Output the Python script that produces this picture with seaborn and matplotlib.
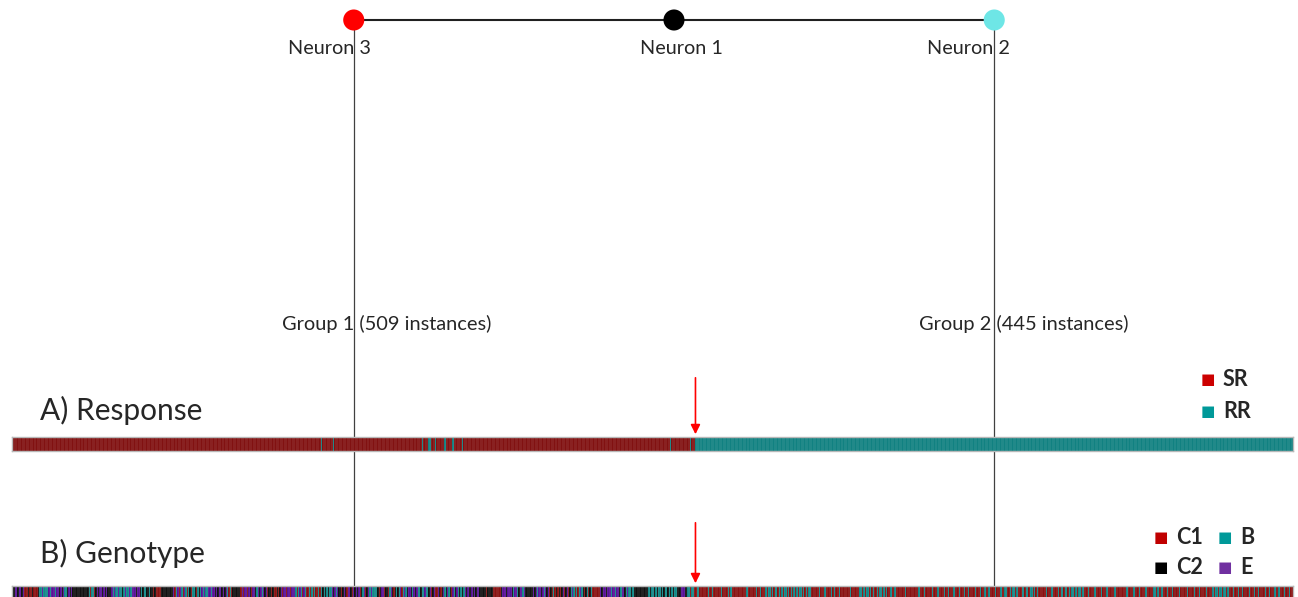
import numpy as np
import seaborn as sns
import matplotlib
matplotlib.use("Agg")
import matplotlib.pyplot as plt
from matplotlib.colors import ListedColormap

sns.set_style("white")
plt.rcParams['font.family'] = ['Lato', 'DejaVu Sans']

# ---- data ----
group_names = ["Group 1", "Group 2"]
group_sizes = [509, 445]
neuron_names = ["Neuron 3", "Neuron 1", "Neuron 2"]
neuron_colors = ["#ff0000", "#000000", "#6ee6e6"]

resp_labels = ["SR", "RR"]
resp_legend_colors = ["#cc0000", "#009999"]
resp_strip_colors = ["#780000", "#007878"]
# run-length encoded response per instance
resp_runs = [("SR", 230), ("RR", 1), ("SR", 8), ("RR", 1), ("SR", 65), ("RR", 1),
             ("SR", 4), ("RR", 2), ("SR", 3), ("RR", 1), ("SR", 6), ("RR", 1),
             ("SR", 5), ("RR", 1), ("SR", 6), ("RR", 1), ("SR", 154), ("RR", 1),
             ("SR", 14), ("RR", 1), ("SR", 3), ("RR", 445)]

geno_labels = ["C1", "C2", "B", "E"]
geno_keys = {"R": 0, "K": 1, "B": 2, "E": 3}
geno_legend_colors = ["#c00000", "#000000", "#009999", "#7030a0"]
geno_strip_colors = ["#800000", "#000000", "#008080", "#4c0090"]
# one character per instance: R=C1, K=C2, B=B, E=E
genotype = [
    "KKEEKEEKER RRKRRKRRRK BBEBBBBEBE EEBEEKEKEB BKEKEKKKKK",
    "KKKKKKKBRB BRKEKEEKEK EKKKEBEBBE BBKBEBBEBE EEKEEKBKBB",
    "KKBKKRKRRR RKKKKKKKKK ERBEREBREB RBKRBBKRBK BEBEBBEEBE",
    "EKEKEEKEKE BRBRKKKKKK REREEREKRE EKBEKEBEKE RKKRKRRKRK",
    "EREEREEREE EBRBEBREBR RBRBRBRRBR BKBKBKBBEK EBEKKRKEKR",
    "EEKREKEKER KBERKEBEBB BBKRKEERKK RBEKRKBKBE RBEBKEEKBE",
    "KEBBKBBEBB KERKERREKR KEBKEBKREB KEBKBKBEKE KKEKEKEEKK",
    "KKKRKKKKRR RRRRKEEEKE EEKBEEBKEE BEKKKKKKEK EBEEKEBEKE",
    "RKRBRKRKRK ERKERKBEBR BRBEBKRKBR KBRRRRRREK EEKEEEBEEB",
    "EEKBEEKBEB BKBKKKKKKK KKKKBKBBKB KBBKBKBBKB KBKBBKKKEE",
    "EKKBBRBBRR BBRRRRRRBR RBRRRRRRBR RRRBRBRRRR RRRRRRRBRR",
    "RRRRBRRBRR RBRBBRBRBB RBRBRBBRBR BRBRBRBBRB RBRBBRRRRR",
    "RBRRRBRRRR BRBRRRBRRR RRRRBRRRRR RBBRBRBBRB RBRRBRBBRB",
    "RBRRBRRBRR RRRRRBRRRR RRRRRBRRRB RRRRRBRRRB RRRRBRRBRR",
    "RBRRRBRRRB RRBRRRRBRR RBRRBRRBRR RRBRRRBRRB BRRBRBBRBR",
    "RRBBRBBRBB RBRBRRRRRR BRRRBRRRRB RBBRBBRBRB BRBRBBRBRR",
    "RBRRRRBRRR RBRRRBRRRR RBRRRRRRRR BRRRRBRRRB RRRRBRRRRR",
    "BBRBRRBRRR BRRRBRRRRB RRRRRBRRRR BRRRBRRRRB RRRRBRBBRB",
    "BRBBRBRRRB RRRBRRBRRR RBRRRBRRBR RRRBRRBRRR BRRBRRRBRR",
    "RBRR",
]

n_total = sum(group_sizes)
resp_codes = np.concatenate([[resp_labels.index(l)] * k for l, k in resp_runs])
geno_codes = np.array([geno_keys[c] for c in "".join(genotype).replace(" ", "")])

# neurons sit at the group centres, Neuron 1 half way between them
g_centres = [group_sizes[0] / 2, group_sizes[0] + group_sizes[1] / 2]
neuron_x = [g_centres[0], (g_centres[0] + g_centres[1]) / 2, g_centres[1]]

W, H = 1298, 597
fig = plt.figure(figsize=(W / 100, H / 100), dpi=100)
L, R = 12, 1293
ax = fig.add_axes([L / W, 0, (R - L) / W, 1])
ax.set_xlim(0, n_total)
ax.set_ylim(H, 0)
ax.axis("off")

def px(x):
    return x / W

def py(y):
    return 1 - y / H

# tree
for gx in g_centres:
    ax.plot([gx, gx], [20, H], color="#404040", lw=0.9, zorder=1)
ax.plot([neuron_x[0], neuron_x[2]], [20, 20], color="#202020", lw=1.5, zorder=2)
sns.scatterplot(x=neuron_x, y=[20] * 3, hue=neuron_names, palette=neuron_colors,
                s=230, edgecolor="none", legend=False, ax=ax, zorder=3)

# labels
for name, lx in zip(neuron_names, [288, 640, 927]):
    fig.text(px(lx), py(48), name, fontsize=14.3, ha="left", va="center")
for name, n, lx in zip(group_names, group_sizes, [282, 919]):
    fig.text(px(lx), py(324), f"{name} ({n} instances)", fontsize=14.4, ha="left", va="center")
fig.text(px(40), py(410), "A) Response", fontsize=21.5, ha="left", va="center")
fig.text(px(40), py(553), "B) Genotype", fontsize=21.5, ha="left", va="center")

# arrows at the group split
for y0, y1 in [(375, 437), (520, 586)]:
    ax.annotate("", xy=(group_sizes[0], y1), xytext=(group_sizes[0], y0),
                arrowprops=dict(arrowstyle="-|>", color="red", lw=1.2, mutation_scale=14),
                zorder=5)

# strips
def strip(codes, colors, top, bottom):
    sax = fig.add_axes([L / W, 1 - bottom / H, (R - L) / W, (bottom - top) / H])
    sax.set_zorder(10)
    sns.heatmap(codes[None, :], cmap=ListedColormap(colors), vmin=-0.5,
                vmax=len(colors) - 0.5, cbar=False, xticklabels=False,
                yticklabels=False, linewidths=0.2, linecolor=(1, 1, 1, 0.07), ax=sax)
    for sp in sax.spines.values():
        sp.set_visible(True)
        sp.set_color("#b8b8b8")
        sp.set_linewidth(1)
    return sax

strip(resp_codes, resp_strip_colors, 437, 451)
strip(geno_codes, geno_strip_colors, 586, 600)

# legends
def legend_item(x, y, label, color):
    fig.text(px(x), py(y), "\u25a0", color=color, fontsize=11, ha="center", va="center",
             family="DejaVu Sans")
    fig.text(px(x + 15), py(y), label, fontsize=15.5, fontweight="bold", ha="left", va="center")

for lab, col, y in zip(resp_labels, resp_legend_colors, [380, 411]):
    legend_item(1208, y, lab, col)
for lab, col, (x, y) in zip(geno_labels, geno_legend_colors,
                            [(1161, 537), (1161, 568), (1225, 537), (1225, 568)]):
    legend_item(x, y, lab, col)

fig.savefig("out.png", dpi=100)
